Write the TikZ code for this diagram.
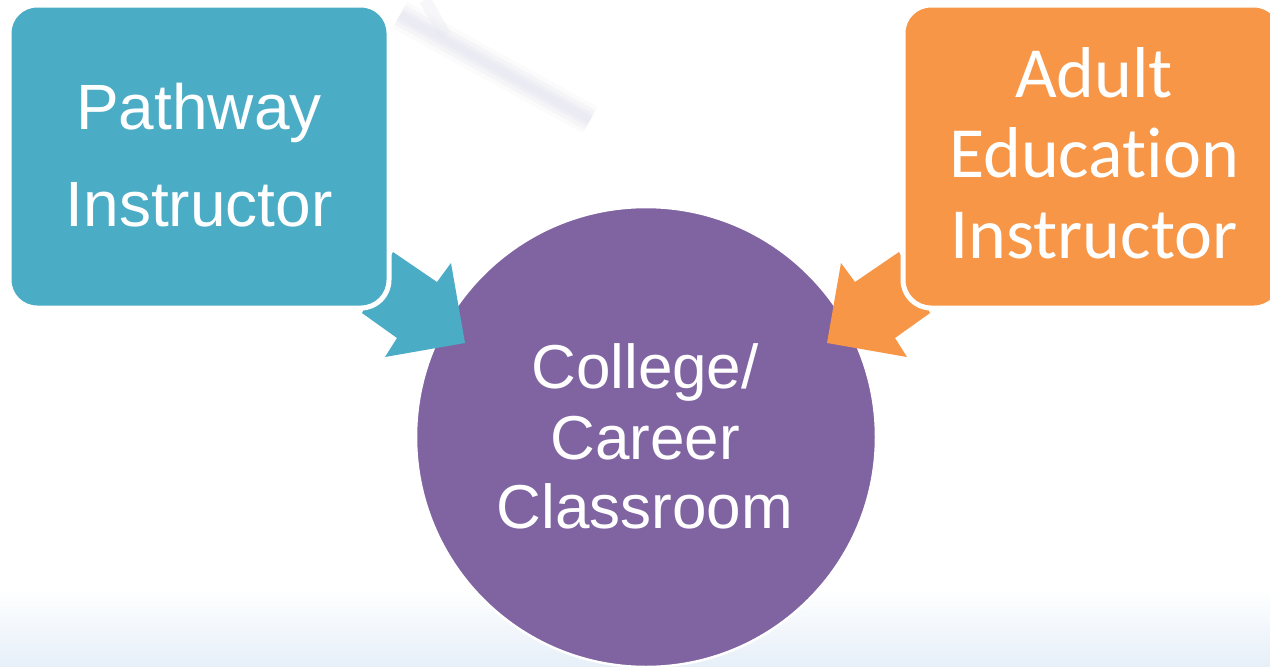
\documentclass[tikz,border=0pt]{standalone}
\usepackage{fontspec}
\setmainfont{Liberation Sans}
\newfontfamily\calib[Ligatures=NoCommon]{Carlito}
\definecolor{teal1}{HTML}{4BACC6}
\definecolor{orange1}{HTML}{F79646}
\definecolor{purple1}{HTML}{8064A2}
\definecolor{wmark}{HTML}{E6E6F0}
\definecolor{bgblue}{HTML}{E6EFF8}
\begin{document}
\begin{tikzpicture}[x=1pt,y=-1pt,
  box/.style={draw=white,line width=5pt,rounded corners=28pt},
  lbl/.style={text=white,anchor=base,inner sep=0pt}]
\useasboundingbox (0,0) rectangle (1270,667);
\fill[white] (0,0) rectangle (1270,667);
% bottom gradient
\shade[top color=white,bottom color=bgblue] (0,588) rectangle (1270,667);
% faint watermark
\foreach \w/\o in {30/0.15,22/0.25,14/0.35,8/0.4}{
  \draw[wmark,line width=\w pt,opacity=\o] (400,15) -- (590,120);
}
\draw[wmark,line width=12pt,opacity=0.3] (425,0) -- (445,35);
% circle
\node[circle,fill=purple1,draw=white,line width=2.5pt,minimum size=460pt,inner sep=0pt] (cc) at (646,437) {};
% arrows
\coordinate (la1) at (393,252); \coordinate (la2) at (437,282);
\coordinate (la3) at (451,263); \coordinate (latip) at (465,343);
\coordinate (la5) at (385,357); \coordinate (la6) at (397,338);
\coordinate (la7) at (362,313);
\fill[teal1] (la1) -- (la2) -- (la3) -- (latip) -- (la5) -- (la6) -- (la7) -- cycle;
\coordinate (ra1) at (899,252); \coordinate (ra2) at (855,282);
\coordinate (ra3) at (841,263); \coordinate (ratip) at (827,343);
\coordinate (ra5) at (907,357); \coordinate (ra6) at (895,338);
\coordinate (ra7) at (930,313);
\fill[orange1] (ra1) -- (ra2) -- (ra3) -- (ratip) -- (ra5) -- (ra6) -- (ra7) -- cycle;
% boxes
\draw[box,fill=teal1] (9,5) rectangle (389,308);
\draw[box,fill=orange1] (903,5) rectangle (1282,308);
% texts
\node[lbl,font=\fontsize{64}{64}\selectfont] (pw1) at (199,129) {Pathway};
\node[lbl,font=\fontsize{64}{64}\selectfont] (pw2) at (199,226) {Instructor};
\node[lbl,font=\calib\fontsize{72}{72}\selectfont] (ae1) at (1094,97) {Adult};
\node[lbl,font=\calib\fontsize{72}{72}\selectfont] (ae2) at (1094,177) {Education};
\node[lbl,font=\calib\fontsize{72}{72}\selectfont] (ae3) at (1094,258) {Instructor};
\node[lbl,font=\fontsize{62}{62}\selectfont] (cc1) at (645,388) {College/};
\node[lbl,font=\fontsize{62}{62}\selectfont] (cc2) at (645,459) {Career};
\node[lbl,font=\fontsize{62}{62}\selectfont] (cc3) at (645,528) {Classroom};
\end{tikzpicture}
\end{document}
